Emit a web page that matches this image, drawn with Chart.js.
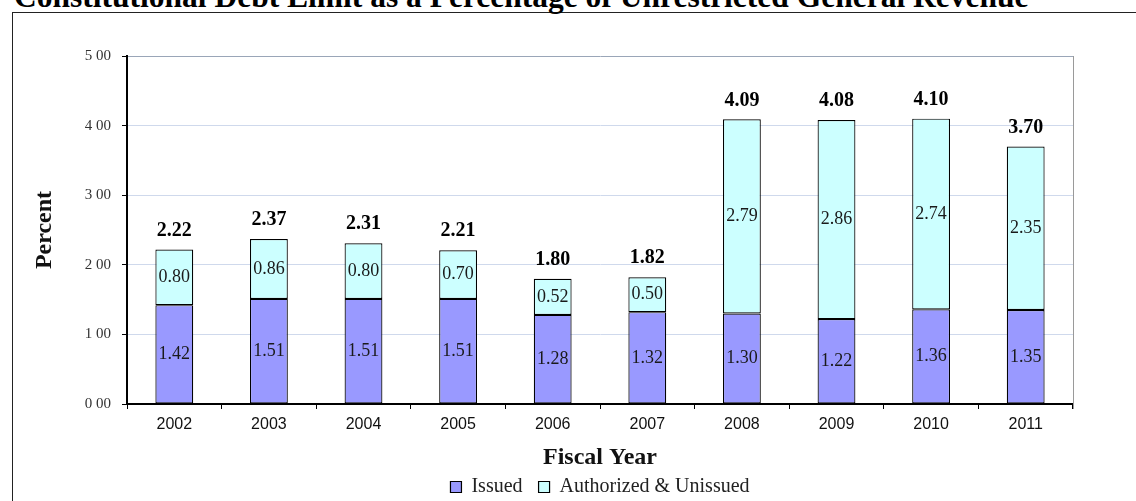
<!DOCTYPE html>
<html>
<head>
<meta charset="utf-8">
<script src="https://cdn.jsdelivr.net/npm/chart.js@4/dist/chart.umd.min.js"></script>
<style>
  html, body { margin: 0; padding: 0; background: #fff; overflow: hidden; }
  #wrap { position: relative; width: 1136px; height: 501px; overflow: hidden; }
  #heading {
    position: absolute; left: 14px; top: -19px; margin: 0;
    font: bold 31.5px/31.5px "Liberation Serif", serif; color: #000; white-space: nowrap;
  }
  #frame {
    position: absolute; left: 12px; top: 12px; width: 1300px; height: 700px;
    border-left: 1px solid #222; border-top: 1px solid #222;
  }
  #chart { position: absolute; left: 0; top: 0; }
</style>
</head>
<body>
<div id="wrap">
  <div id="frame"></div>
  <h1 id="heading">Constitutional Debt Limit as a Percentage of Unrestricted General Revenue</h1>
  <canvas id="chart" width="1136" height="507"></canvas>
</div>
<script>
// Fiscal years and the two stacked components of the debt limit (percent)
const years = ['2002', '2003', '2004', '2005', '2006', '2007', '2008', '2009', '2010', '2011'];
const issued = [1.42, 1.51, 1.51, 1.51, 1.28, 1.32, 1.30, 1.22, 1.36, 1.35];
const unissued = [0.80, 0.86, 0.80, 0.70, 0.52, 0.50, 2.79, 2.86, 2.74, 2.35];
const totals = [2.22, 2.37, 2.31, 2.21, 1.80, 1.82, 4.09, 4.08, 4.10, 3.70];
const yTickLabels = ['0 00', '1 00', '2 00', '3 00', '4 00', '5 00'];

const SERIF = '"Liberation Serif", "Times New Roman", serif';
const SANS = '"Liberation Sans", Arial, sans-serif';

// Value labels: each segment centred in its bar piece, totals in bold above the stack
const valueLabels = {
  id: 'valueLabels',
  afterDatasetsDraw(chart) {
    const ctx = chart.ctx;
    const yScale = chart.scales.y;
    ctx.save();
    ctx.textAlign = 'center';
    ctx.textBaseline = 'middle';
    ctx.fillStyle = '#1a1a1a';
    ctx.font = '18px ' + SERIF;
    chart.data.datasets.forEach((ds, di) => {
      chart.getDatasetMeta(di).data.forEach((bar, i) => {
        const p = bar.getProps(['x', 'y', 'base'], true);
        ctx.fillText(ds.data[i].toFixed(2), p.x, (p.y + p.base) / 2);
      });
    });
    ctx.fillStyle = '#000';
    ctx.font = 'bold 20px ' + SERIF;
    const meta = chart.getDatasetMeta(0);
    totals.forEach((t, i) => {
      const x = meta.data[i].x;
      ctx.fillText(t.toFixed(2), x, yScale.getPixelForValue(t) - 19);
    });
    ctx.restore();
  }
};

// Thin grey edge closing the plot area on the right
const plotEdge = {
  id: 'plotEdge',
  afterDraw(chart) {
    const a = chart.chartArea;
    const ctx = chart.ctx;
    ctx.save();
    ctx.strokeStyle = '#9a9a9a';
    ctx.lineWidth = 1;
    ctx.beginPath();
    ctx.moveTo(Math.round(a.right) + 0.5, a.top);
    ctx.lineTo(Math.round(a.right) + 0.5, a.bottom + 5);
    ctx.stroke();
    ctx.restore();
  }
};

new Chart(document.getElementById('chart'), {
  type: 'bar',
  data: {
    labels: years,
    datasets: [
      {
        label: 'Issued',
        data: issued,
        backgroundColor: '#9999ff',
        borderColor: '#000',
        borderWidth: 1.2,
        borderSkipped: false
      },
      {
        label: 'Authorized & Unissued',
        data: unissued,
        backgroundColor: '#ccffff',
        borderColor: '#000',
        borderWidth: 1.2,
        borderSkipped: false
      }
    ]
  },
  options: {
    responsive: false,
    animation: false,
    datasets: { bar: { categoryPercentage: 1, barPercentage: 0.4 } },
    layout: { padding: { left: 12, top: 56, right: 63, bottom: 0 } },
    plugins: {
      legend: {
        position: 'bottom',
        fullSize: false,
        labels: {
          boxWidth: 11,
          boxHeight: 11,
          padding: 16,
          color: '#222',
          font: { family: SERIF, size: 20 }
        }
      },
      tooltip: { enabled: false }
    },
    scales: {
      x: {
        stacked: true,
        grid: { offset: true, drawOnChartArea: false, drawTicks: true, tickLength: 5, color: '#000' },
        border: { color: '#000', width: 2 },
        ticks: { color: '#111', padding: 6, maxRotation: 0, font: { family: SANS, size: 16 } },
        title: {
          display: true,
          text: 'Fiscal Year',
          color: '#111',
          font: { family: SERIF, size: 24, weight: 'bold' },
          padding: { top: 0, bottom: -11 }
        },
        afterFit(scale) { scale.height = 57; }
      },
      y: {
        stacked: true,
        min: 0,
        max: 5,
        ticks: {
          stepSize: 1,
          color: '#333',
          padding: 11,
          font: { family: SERIF, size: 15 },
          callback: (value, index) => yTickLabels[index]
        },
        grid: {
          color: (c) => c.index === 0 ? 'rgba(0,0,0,0)' : (c.index === 5 ? '#9aa6b8' : '#cfd9ec'),
          lineWidth: 1,
          tickColor: '#000',
          tickLength: 5
        },
        border: { color: '#000', width: 2 },
        title: {
          display: true,
          text: 'Percent',
          color: '#111',
          font: { family: SERIF, size: 24, weight: 'bold' },
          padding: { top: 18, bottom: 0 }
        },
        afterFit(scale) { scale.width = 115; }
      }
    }
  },
  plugins: [valueLabels, plotEdge]
});
</script>
</body>
</html>
